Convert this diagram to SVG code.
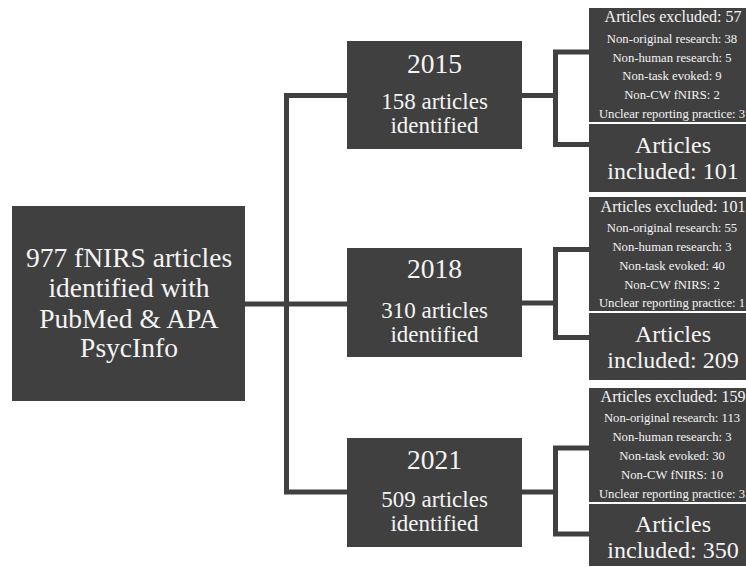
<svg xmlns="http://www.w3.org/2000/svg" width="746" height="567" viewBox="0 0 746 567">
<style>
.box{fill:#404040;}
.t{font-family:"Liberation Serif","Times New Roman",serif;fill:#f4f4f4;text-anchor:middle;}
.big{font-size:27.5px;}
.mid{font-size:23px;}
.inc{font-size:24px;}
.ttl{font-size:16px;}
.sub{font-size:12.7px;}
.conn{fill:none;stroke:#404040;stroke-width:5;stroke-linejoin:miter;}
</style>
<rect width="746" height="567" fill="#ffffff"/>
<g id="connectors">
<path class="conn" d="M347,95.5 H286.5 V492 H347"/>
<path class="conn" d="M245,304 H347"/>
<path class="conn" d="M522,95.5 H555.5"/>
<path class="conn" d="M589,52 H555.5 V144.5 H589"/>
<path class="conn" d="M522,303 H555.5"/>
<path class="conn" d="M589,249.5 H555.5 V337.5 H589"/>
<path class="conn" d="M522,492 H555.5"/>
<path class="conn" d="M589,448 H555.5 V534 H589"/>
</g>
<g id="source">
<rect class="box" x="12" y="206" width="233" height="195"/>
<text class="t big" x="129" y="267">977 fNIRS articles</text>
<text class="t big" x="129" y="297">identified with</text>
<text class="t big" x="129" y="328">PubMed &amp; APA</text>
<text class="t big" x="129" y="357">PsycInfo</text>
</g>
<g id="y2015">
<rect class="box" x="347" y="41" width="175" height="108"/>
<text class="t big" x="434.5" y="73">2015</text>
<text class="t mid" x="434.5" y="109">158 articles</text>
<text class="t mid" x="434.5" y="133">identified</text>
</g>
<g id="y2018">
<rect class="box" x="347" y="248" width="175" height="109"/>
<text class="t big" x="434.5" y="278">2018</text>
<text class="t mid" x="434.5" y="318">310 articles</text>
<text class="t mid" x="434.5" y="342">identified</text>
</g>
<g id="y2021">
<rect class="box" x="347" y="438" width="175" height="109"/>
<text class="t big" x="434.5" y="469">2021</text>
<text class="t mid" x="434.5" y="507">509 articles</text>
<text class="t mid" x="434.5" y="531">identified</text>
</g>
<g id="excl2015">
<rect class="box" x="589" y="8" width="168" height="114"/>
<text class="t ttl" x="673" y="22">Articles excluded: 57</text>
<text class="t sub" x="672" y="43">Non-original research: 38</text>
<text class="t sub" x="672" y="62">Non-human research: 5</text>
<text class="t sub" x="672" y="80">Non-task evoked: 9</text>
<text class="t sub" x="672" y="99">Non-CW fNIRS: 2</text>
<text class="t sub" x="672" y="118">Unclear reporting practice: 3</text>
</g>
<g id="incl2015">
<rect class="box" x="589" y="124" width="168" height="68"/>
<text class="t inc" x="673" y="153">Articles</text>
<text class="t inc" x="673" y="179">included: 101</text>
</g>
<g id="excl2018">
<rect class="box" x="589" y="197" width="168" height="114"/>
<text class="t ttl" x="673" y="212">Articles excluded: 101</text>
<text class="t sub" x="672" y="232">Non-original research: 55</text>
<text class="t sub" x="672" y="251">Non-human research: 3</text>
<text class="t sub" x="672" y="270">Non-task evoked: 40</text>
<text class="t sub" x="672" y="289">Non-CW fNIRS: 2</text>
<text class="t sub" x="672" y="307">Unclear reporting practice: 1</text>
</g>
<g id="incl2018">
<rect class="box" x="589" y="313" width="168" height="67"/>
<text class="t inc" x="673" y="342">Articles</text>
<text class="t inc" x="673" y="368">included: 209</text>
</g>
<g id="excl2021">
<rect class="box" x="589" y="388" width="168" height="114"/>
<text class="t ttl" x="673" y="402">Articles excluded: 159</text>
<text class="t sub" x="672" y="422">Non-original research: 113</text>
<text class="t sub" x="672" y="441">Non-human research: 3</text>
<text class="t sub" x="672" y="460">Non-task evoked: 30</text>
<text class="t sub" x="672" y="479">Non-CW fNIRS: 10</text>
<text class="t sub" x="672" y="498">Unclear reporting practice: 3</text>
</g>
<g id="incl2021">
<rect class="box" x="589" y="504" width="168" height="62"/>
<text class="t inc" x="673" y="532">Articles</text>
<text class="t inc" x="673" y="558">included: 350</text>
</g>
</svg>
